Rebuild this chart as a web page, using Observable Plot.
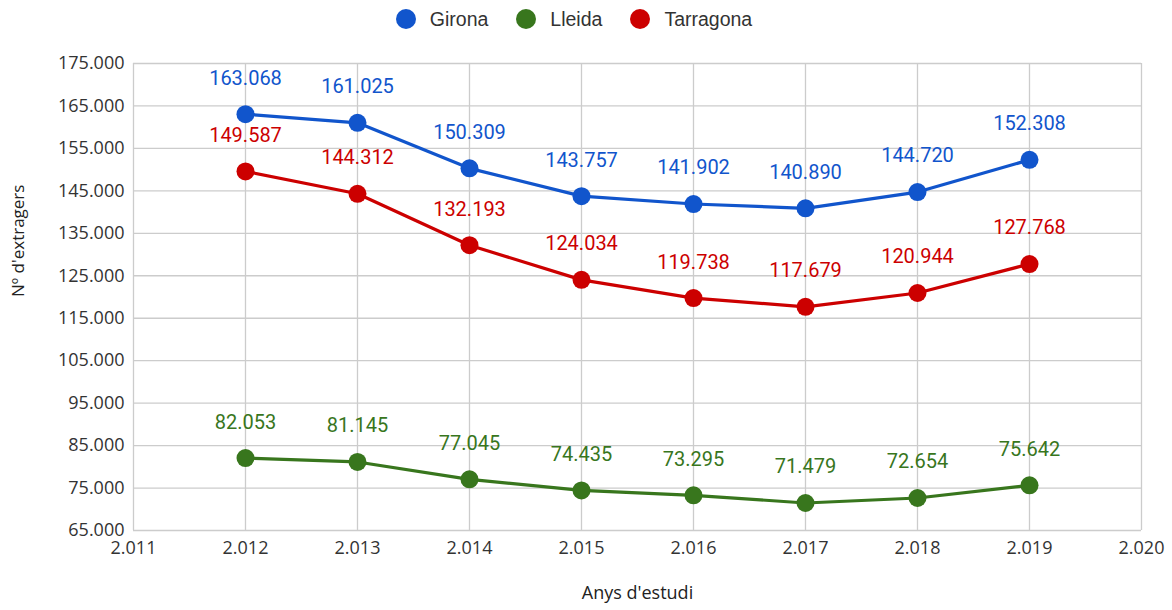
<!DOCTYPE html>
<html><head><meta charset="utf-8">
<script src="https://cdn.jsdelivr.net/npm/d3@7"></script>
<script src="https://cdn.jsdelivr.net/npm/@observablehq/plot@0.6"></script>
<style>
body{margin:0;background:#fff;font-family:"Liberation Sans",Arial,sans-serif;}
#legend{height:38px;display:flex;justify-content:center;align-items:center;gap:28px;font-size:19.5px;color:#333;padding-right:24px;box-sizing:border-box;}
#legend span.item{display:flex;align-items:center;gap:14px;}
#legend span.dot{width:20px;height:20px;border-radius:50%;display:inline-block;}
</style></head>
<body>
<div id="legend"></div>
<div id="chart"></div>
<script>
const years = [2012, 2013, 2014, 2015, 2016, 2017, 2018, 2019];
const series = ["Girona", "Lleida", "Tarragona"];
const colors = ["#1155cc", "#38761d", "#cc0000"];
const girona = [163068, 161025, 150309, 143757, 141902, 140890, 144720, 152308];
const lleida = [82053, 81145, 77045, 74435, 73295, 71479, 72654, 75642];
const tarragona = [149587, 144312, 132193, 124034, 119738, 117679, 120944, 127768];
const yTicks = [65000, 75000, 85000, 95000, 105000, 115000, 125000, 135000, 145000, 155000, 165000, 175000];
const xTicks = [2011, 2012, 2013, 2014, 2015, 2016, 2017, 2018, 2019, 2020];
const xTitle = "Anys d'estudi";
const yTitle = "Nº d'extragers";

const values = {Girona: girona, Lleida: lleida, Tarragona: tarragona};
const data = series.flatMap(s => years.map((y, i) => ({series: s, year: y, value: values[s][i]})));

const loc = d3.formatLocale({decimal: ",", thousands: ".", grouping: [3], currency: ["", "€"]});
const fmt = loc.format(",d");

const legend = document.getElementById("legend");
series.forEach((s, i) => {
  const it = document.createElement("span"); it.className = "item";
  it.innerHTML = `<span class="dot" style="background:${colors[i]}"></span><span>${s}</span>`;
  legend.appendChild(it);
});

const chart = Plot.plot({
  width: 1172,
  height: 572,
  marginTop: 25,
  marginLeft: 133,
  marginRight: 31,
  marginBottom: 80,
  style: {fontFamily: "'Open Sans', sans-serif", fontSize: "18px", color: "#333", background: "#fff"},
  x: {domain: [2011, 2020]},
  y: {domain: [65000, 175000]},
  color: {domain: series, range: colors},
  marks: [
    Plot.gridX(xTicks, {stroke: "#cccccc", strokeOpacity: 1, strokeWidth: 1.3}),
    Plot.gridY(yTicks, {stroke: "#cccccc", strokeOpacity: 1, strokeWidth: 1.3}),
    Plot.axisX({ticks: xTicks, tickFormat: fmt, tickSize: 0, tickPadding: 11, fontSize: 18, fill: "#333", label: null}),
    Plot.axisY({ticks: yTicks, tickFormat: fmt, tickSize: 0, tickPadding: 9, fontSize: 18, fill: "#333", label: null}),
    Plot.text([xTitle], {frameAnchor: "bottom", dy: 68, fontSize: 18, fill: "#222", fontFamily: "'Open Sans', sans-serif"}),
    Plot.text([yTitle], {frameAnchor: "left", dx: -115, rotate: -90, fontSize: 17, fill: "#222", fontFamily: "'Open Sans', sans-serif"}),
    Plot.line(data, {x: "year", y: "value", z: "series", stroke: "series", strokeWidth: 3.2}),
    Plot.dot(data, {x: "year", y: "value", fill: "series", r: 9}),
    Plot.text(data, {x: "year", y: "value", text: d => fmt(d.value), fill: "series", dy: -36, fontSize: 20, fontFamily: "Roboto, sans-serif"})
  ]
});
document.getElementById("chart").appendChild(chart);
</script>
</body></html>
